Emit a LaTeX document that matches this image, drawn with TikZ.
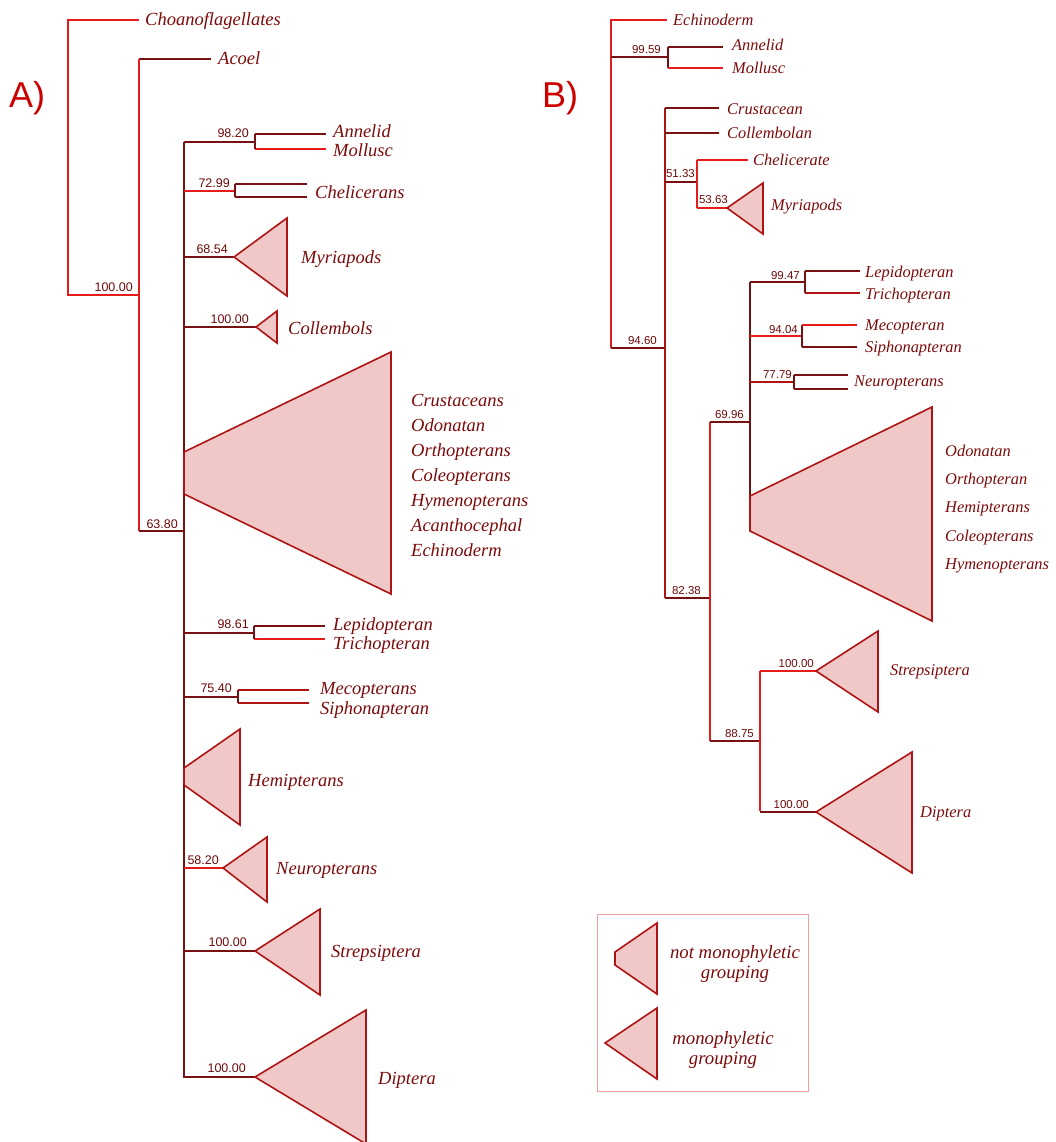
\documentclass[tikz,border=0pt]{standalone}
\usepackage{fontspec}
\setmainfont{Liberation Serif}
\setsansfont{Liberation Sans}
\definecolor{lred}{RGB}{228,28,28}
\definecolor{ldark}{RGB}{120,18,18}
\definecolor{lmid}{RGB}{175,20,20}
\definecolor{txtc}{RGB}{125,10,10}
\definecolor{numc}{RGB}{110,10,10}
\definecolor{tfill}{RGB}{241,200,200}
\definecolor{boxc}{RGB}{240,160,160}
\definecolor{panc}{RGB}{205,0,0}
\tikzset{
  lr/.style={draw=lred,line width=1.6pt},
  ld/.style={draw=ldark,line width=1.6pt},
  tri/.style={fill=tfill,draw=lmid,line width=1.6pt,line join=miter},
  lblA/.style={font=\fontsize{18.5}{18.5}\selectfont\itshape,text=txtc,anchor=base west,inner sep=0pt},
  lblB/.style={font=\fontsize{16.4}{16.4}\selectfont\itshape,text=txtc,anchor=base west,inner sep=0pt},
  numA/.style={font=\sffamily\fontsize{12.5}{12.5}\selectfont,text=numc,anchor=base east,inner sep=0pt},
  numB/.style={font=\sffamily\fontsize{11.5}{11.5}\selectfont,text=numc,anchor=base east,inner sep=0pt},
  pan/.style={font=\sffamily\fontsize{36}{36}\selectfont,text=panc,anchor=base west,inner sep=0pt},
  leg/.style={font=\fontsize{18.8}{19.5}\selectfont\itshape,text=txtc,align=center,inner sep=0pt}
}
\begin{document}
\begin{tikzpicture}[x=1pt,y=-1pt]
\useasboundingbox (0,0) rectangle (1055,1142);
% ================= Panel A =================
\node[pan] (pA) at (9,108) {A)};
% root
\coordinate (a0t) at (68,20); \coordinate (a0b) at (68,295);
\coordinate (a1) at (139,295); \coordinate (a1t) at (139,59); \coordinate (a1b) at (139,531);
\coordinate (a2) at (184,531); \coordinate (a2t) at (184,142); \coordinate (a2b) at (184,1078);
\node[lblA] (choano) at (145,26) {Choanoflagellates};
\node[lblA] (acoel) at (218,65) {Acoel};
\draw[lr] (choano.base west) ++(-6,-6) coordinate (choE) -- (a0t) -- (a0b) -- (a1);
\draw[ld] (acoel.base west) ++(-7,-6) coordinate (acE) -- (a1t);
\draw[lr] (a1t) -- (a1b);
\draw[ld] (a1b) -- (a2);
\draw[ld] (a2t) -- (a2b);
\node[numA] (n100a) at (133,291) {100.00};
\node[numA] (n6380) at (178,528) {63.80};
% Annelid / Mollusc
\coordinate (am) at (255,142);
\node[lblA] (annA) at (333,138) {Annelid};
\node[lblA] (molA) at (333,157) {Mollusc};
\draw[ld] (184,142) -- (am);
\draw[ld] (255,134) -- (326,134);
\draw[lr] (255,149) -- (326,149);
\draw[ld] (255,134) -- (255,149);
\node[numA] (n9820) at (249,138) {98.20};
% Chelicerans
\node[lblA] (chelA) at (315,198) {Chelicerans};
\draw[lr] (184,191) -- (235,191);
\draw[ld] (235,184) -- (307,184);
\draw[ld] (235,197) -- (307,197);
\draw[ld] (235,184) -- (235,197);
\node[numA] (n7299) at (230,187) {72.99};
% Myriapods
\coordinate (myrA) at (234,257);
\draw[ld] (184,257) -- (myrA);
\draw[tri] (myrA) -- (287,218) -- (287,296) -- cycle;
\node[lblA] (myrAl) at (301,263) {Myriapods};
\node[numA] (n6854) at (228,253) {68.54};
% Collembols
\coordinate (colA) at (256,327);
\draw[ld] (184,327) -- (colA);
\draw[tri] (colA) -- (277,311) -- (277,343) -- cycle;
\node[lblA] (colAl) at (288,334) {Collembols};
\node[numA] (n100b) at (249,323) {100.00};
% big triangle A
\draw[tri] (184,452) -- (391,352) -- (391,594) -- (184,494) -- cycle;
\node[lblA] (crA) at (411,406) {Crustaceans};
\node[lblA] (odA) at (411,431) {Odonatan};
\node[lblA] (orA) at (411,456) {Orthopterans};
\node[lblA] (coA) at (411,481) {Coleopterans};
\node[lblA] (hyA) at (411,506) {Hymenopterans};
\node[lblA] (acA) at (411,531) {Acanthocephal};
\node[lblA] (ecA) at (411,556) {Echinoderm};
% Lepidopteran / Trichopteran
\draw[ld] (184,633) -- (254,633);
\draw[ld] (254,626) -- (325,626);
\draw[lr] (254,639) -- (325,639);
\draw[ld] (254,626) -- (254,639);
\node[lblA] (lepA) at (333,630) {Lepidopteran};
\node[lblA] (triA) at (333,649) {Trichopteran};
\node[numA] (n9861) at (249,628) {98.61};
% Mecopterans / Siphonapteran
\draw[ld] (184,697) -- (238,697);
\draw[lmid,line width=1.6pt] (238,690) -- (309,690);
\draw[lmid,line width=1.6pt] (238,703) -- (309,703);
\draw[ld] (238,690) -- (238,703);
\node[lblA] (mecA) at (320,694) {Mecopterans};
\node[lblA] (sipA) at (320,714) {Siphonapteran};
\node[numA] (n7540) at (232,692) {75.40};
% Hemipterans
\draw[tri] (184,768) -- (240,729) -- (240,825) -- (184,785) -- cycle;
\node[lblA] (hemA) at (248,786) {Hemipterans};
% Neuropterans
\coordinate (neuA) at (223,868);
\draw[lr] (184,868) -- (neuA);
\draw[tri] (neuA) -- (267,837) -- (267,902) -- cycle;
\node[lblA] (neuAl) at (276,874) {Neuropterans};
\node[numA] (n5820) at (219,864) {58.20};
% Strepsiptera
\coordinate (strA) at (255,951);
\draw[ld] (184,951) -- (strA);
\draw[tri] (strA) -- (320,909) -- (320,995) -- cycle;
\node[lblA] (strAl) at (331,957) {Strepsiptera};
\node[numA] (n100c) at (247,946) {100.00};
% Diptera
\coordinate (dipA) at (255,1077);
\draw[ld] (184,1077) -- (dipA);
\draw[tri] (dipA) -- (366,1010) -- (366,1144) -- cycle;
\node[lblA] (dipAl) at (378,1084) {Diptera};
\node[numA] (n100d) at (246,1072) {100.00};
% ================= Panel B =================
\node[pan] (pB) at (542,108) {B)};
\coordinate (b0t) at (611,20); \coordinate (b0b) at (611,348);
\node[lblB] (echB) at (673,26) {Echinoderm};
\draw[lr] (667,20) -- (b0t) -- (b0b);
\draw[ld] (b0b) -- (665,348);
\node[numB] (n9460) at (657,344) {94.60};
% Annelid / Mollusc B
\draw[ld] (611,57) -- (668,57);
\draw[ld] (668,47) -- (668,68);
\draw[ld] (668,47) -- (723,47);
\draw[lr] (668,68) -- (723,68);
\node[lblB] (annB) at (732,51) {Annelid};
\node[lblB] (molB) at (732,74) {Mollusc};
\node[numB] (n9959) at (661,54) {99.59};
% main vertical B
\draw[lmid,line width=1.6pt] (665,108) -- (665,598);
\draw[ld] (665,108) -- (719,108);
\draw[ld] (665,133) -- (719,133);
\node[lblB] (cruB) at (727,115) {Crustacean};
\node[lblB] (colB) at (727,139) {Collembolan};
% 51.33
\draw[ld] (665,182) -- (697,182);
\draw[lr] (697,160) -- (697,208);
\draw[lr] (697,160) -- (748,160);
\node[lblB] (chB) at (753,166) {Chelicerate};
\coordinate (myrB) at (727,208);
\draw[lr] (697,208) -- (myrB);
\draw[tri] (myrB) -- (763,183) -- (763,234) -- cycle;
\node[lblB] (myrBl) at (771,211) {Myriapods};
\node[numB] (n5133) at (695,178) {51.33};
\node[numB] (n5363) at (728,204) {53.63};
% 82.38
\draw[ld] (665,598) -- (710,598);
\node[numB] (n8238) at (701,594) {82.38};
\draw[lr] (710,422) -- (710,741);
\draw[ld] (710,422) -- (750,422);
\node[numB] (n6996) at (744,418) {69.96};
\draw[ld] (750,282) -- (750,531);
% Lepidopteran / Trichopteran B
\draw[ld] (750,282) -- (805,282);
\draw[ld] (805,271) -- (805,293);
\draw[ld] (805,271) -- (860,271);
\draw[lmid,line width=1.6pt] (805,293) -- (860,293);
\node[lblB] (lepB) at (865,277) {Lepidopteran};
\node[lblB] (triB) at (865,299) {Trichopteran};
\node[numB] (n9947) at (800,279) {99.47};
% Mecopteran / Siphonapteran B
\draw[lr] (750,336) -- (802,336);
\draw[ld] (802,325) -- (802,347);
\draw[lr] (802,325) -- (857,325);
\draw[ld] (802,347) -- (857,347);
\node[lblB] (mecB) at (865,330) {Mecopteran};
\node[lblB] (sipB) at (865,352) {Siphonapteran};
\node[numB] (n9404) at (798,333) {94.04};
% Neuropterans B
\draw[lmid,line width=1.6pt] (750,382) -- (794,382);
\draw[ld] (794,375) -- (794,389);
\draw[ld] (794,375) -- (848,375);
\draw[ld] (794,389) -- (848,389);
\node[lblB] (neuB) at (854,386) {Neuropterans};
\node[numB] (n7779) at (792,378) {77.79};
% big triangle B
\draw[tri] (750,496) -- (932,407) -- (932,621) -- (750,531) -- cycle;
\node[lblB] (odB) at (945,456) {Odonatan};
\node[lblB] (orB) at (945,484) {Orthopteran};
\node[lblB] (heB) at (945,512) {Hemipterans};
\node[lblB] (coB) at (945,541) {Coleopterans};
\node[lblB] (hyB) at (945,569) {Hymenopterans};
% 88.75
\draw[ld] (710,741) -- (760,741);
\node[numB] (n8875) at (754,737) {88.75};
\draw[lr] (760,671) -- (760,811);
\coordinate (strB) at (816,671);
\draw[lr] (760,671) -- (strB);
\draw[tri] (strB) -- (878,631) -- (878,712) -- cycle;
\node[lblB] (strBl) at (890,675) {Strepsiptera};
\node[numB] (n100e) at (814,667) {100.00};
\coordinate (dipB) at (816,812);
\draw[ld] (760,812) -- (dipB);
\draw[tri] (dipB) -- (912,752) -- (912,873) -- cycle;
\node[lblB] (dipBl) at (920,817) {Diptera};
\node[numB] (n100f) at (809,808) {100.00};
% legend
\draw[boxc,line width=1pt] (597,914) rectangle (808,1091);
\draw[tri] (615,952) -- (657,923) -- (657,994) -- (615,965) -- cycle;
\node[leg] (leg1) at (735,964) {not monophyletic\\grouping};
\draw[tri] (605,1043) -- (657,1008) -- (657,1079) -- cycle;
\node[leg] (leg2) at (723,1050) {monophyletic\\grouping};
\end{tikzpicture}
\end{document}
